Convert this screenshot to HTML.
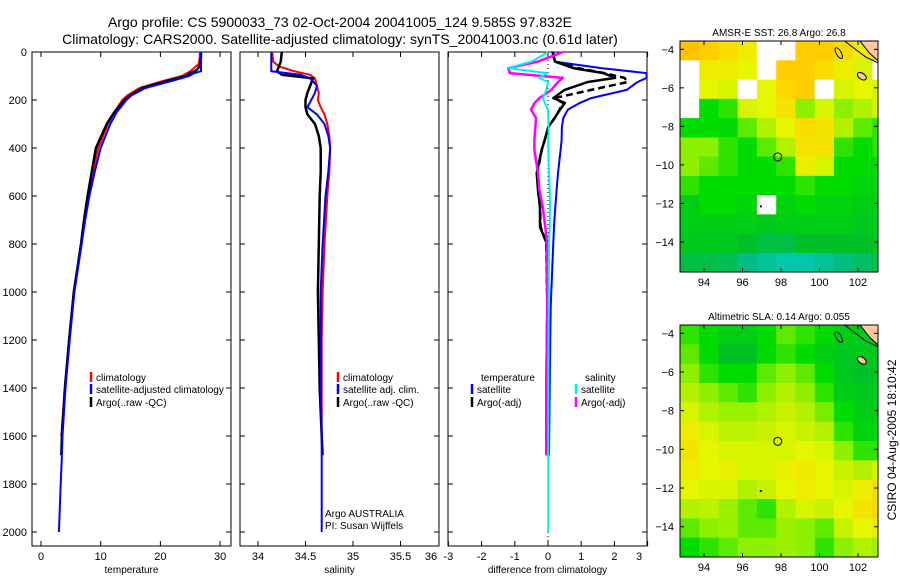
<!DOCTYPE html>
<html><head><meta charset="utf-8"><style>
html,body{margin:0;padding:0;background:#fff;}
svg{display:block;font-family:"Liberation Sans",sans-serif;}
</style></head><body>
<svg id="s" width="900" height="580" viewBox="0 0 900 580">
<defs>
<clipPath id="clip1"><rect x="680" y="41" width="198" height="231"/></clipPath>
<clipPath id="clip2"><rect x="680" y="325" width="198" height="232"/></clipPath>
</defs>
<text x="340" y="27" font-size="14" text-anchor="middle">Argo profile: CS 5900033_73 02-Oct-2004 20041005_124 9.585S 97.832E</text>
<text x="340" y="44" font-size="14" text-anchor="middle">Climatology: CARS2000. Satellite-adjusted climatology: synTS_20041003.nc (0.61d later)</text>
<text transform="translate(896,440) rotate(-90)" font-size="12" text-anchor="middle">CSIRO 04-Aug-2005 18:10:42</text>
</svg>
<script>
// ---------- data ----------
const tDepth=[0,20,50,70,80,90,100,120,150,180,200,250,300,400,500,600,700,800,900,1000,1200,1400,1600,1680,1800,2000];
const tClim=[26.6,26.6,26.4,25.5,25.0,24.3,23.6,20.5,16.5,14.5,13.6,12.3,11.2,9.6,8.7,7.9,7.3,6.8,6.2,5.5,4.7,4.0,3.4,null,null,null];
const tArgo=[26.8,26.8,26.7,26.3,25.8,24.8,24.3,21.2,17.0,15.0,14.0,12.3,11.0,9.2,8.5,7.8,7.2,6.7,6.1,5.5,4.7,4.0,3.5,3.4,null,null];
const tSat=[26.8,26.8,26.8,26.8,26.8,25.5,24.8,22.0,17.5,15.2,14.3,12.7,11.6,10.0,9.0,8.1,7.4,6.8,6.2,5.6,4.8,4.1,3.6,3.5,3.3,3.0];
const sDepth=[0,40,60,80,95,110,140,170,200,230,260,300,350,400,500,600,800,1000,1200,1400,1600,1680,1800,2000];
const sClim=[34.15,34.16,34.22,34.38,34.55,34.6,34.62,34.64,34.63,34.66,34.7,34.73,34.75,34.76,34.75,34.73,34.7,34.68,34.67,34.67,34.67,null,null,null];
const sArgo=[34.25,34.24,34.22,34.2,34.25,34.58,34.55,34.52,34.5,34.5,34.52,34.6,34.64,34.66,34.66,34.65,34.64,34.63,34.64,34.65,34.67,34.68,null,null];
const sSat=[34.14,34.14,34.14,34.14,34.45,34.55,34.62,34.6,34.56,34.52,34.62,34.7,34.74,34.76,34.74,34.71,34.68,34.66,34.66,34.66,34.67,34.67,34.67,34.67];
const dDepth=[0,40,67,88,108,125,158,192,212,240,275,312,367,408,504,575,646,729,796,1060,1400,1680,2000];
const dTempSat=[0.16,0.21,1.6,2.97,2.97,2.7,2.37,1.3,0.96,0.6,0.46,0.42,0.41,0.38,0.3,0.26,0.22,0.18,0.16,0.08,0.05,0.03,null];
const dTempArgo=[0.14,0.21,0.76,1.67,2.02,1.2,0.5,0.16,0.51,0.36,0.2,0.01,-0.1,-0.19,-0.34,-0.3,-0.24,-0.24,-0.04,-0.02,-0.05,-0.05,null];
const dTempAdj=[0.14,0.2,0.9,1.7,2.3,2.4,1.3,0.2,0.45,0.35,0.2,0.02,-0.1,-0.19,-0.32,-0.3,-0.24,-0.22,-0.05,-0.02,-0.04,-0.04,null];
const dSalSat=[0,-0.5,-1.2,-0.03,-0.27,0,-0.05,-0.15,-0.1,0,0.01,0.02,0.01,0.01,0.03,0.05,0.06,0.05,0.03,0.02,0.01,0.01,0.01];
const dSalArgo=[0.45,-0.3,-1.2,-1.15,0.45,0.3,0.1,-0.26,-0.4,-0.51,-0.36,-0.38,-0.41,-0.41,-0.3,-0.26,-0.16,-0.08,-0.03,-0.02,-0.05,-0.05,null];
const tTicks=[0,10,20,30];
const sTicks=[34,34.5,35,35.5,36];
const dTicks=[-3,-2,-1,0,1,2,3];
const depthTicks=[0,200,400,600,800,1000,1200,1400,1600,1800,2000];
const mapLon=[94,96,98,100,102];
const mapLat=[-4,-6,-8,-10,-12,-14];
const sstGrid=[
[0.88,0.85,0.8,0.75,-1,-1,0.85,0.85,0.8,0.75,0.7],
[-1,0.75,0.75,0.72,-1,0.85,0.85,0.8,0.75,0.7,-1],
[-1,0.72,0.7,-1,0.72,0.82,0.85,-1,0.7,0.72,0.7],
[-1,0.45,0.5,0.7,0.72,0.78,0.6,0.7,0.6,0.65,0.7],
[0.45,0.45,0.45,0.55,0.65,0.72,0.8,0.78,0.65,0.55,0.5],
[0.6,0.6,0.5,0.45,0.55,0.65,0.78,0.78,0.5,0.45,0.5],
[0.6,0.55,0.5,0.45,0.45,0.5,0.75,0.7,0.45,0.45,0.45],
[0.5,0.45,0.45,0.45,0.45,0.45,0.5,0.45,0.45,0.42,0.42],
[0.4,0.45,0.45,0.42,-1,0.42,0.45,0.42,0.42,0.4,0.4],
[0.4,0.4,0.4,0.4,0.38,0.4,0.4,0.4,0.4,0.38,0.38],
[0.38,0.38,0.38,0.35,0.3,0.3,0.35,0.35,0.35,0.35,0.38],
[0.3,0.3,0.28,0.2,0.15,0.1,0.1,0.15,0.2,0.25,0.3]];
const slaGrid=[
[0.5,0.45,0.4,0.4,0.45,0.55,0.5,0.45,0.4,0.4,0.4],
[0.55,0.45,0.35,0.35,0.45,0.5,0.45,0.4,0.38,0.38,0.38],
[0.6,0.5,0.45,0.45,0.55,0.6,0.55,0.45,0.38,0.35,0.38],
[0.65,0.6,0.55,0.5,0.6,0.65,0.6,0.5,0.4,0.38,0.38],
[0.7,0.65,0.62,0.62,0.65,0.68,0.65,0.58,0.45,0.4,0.4],
[0.75,0.7,0.66,0.66,0.68,0.7,0.68,0.65,0.5,0.42,0.42],
[0.78,0.72,0.7,0.7,0.7,0.7,0.72,0.7,0.6,0.5,0.5],
[0.75,0.72,0.74,0.7,0.7,0.74,0.76,0.72,0.68,0.65,0.7],
[0.72,0.7,0.7,0.65,0.68,0.72,0.75,0.72,0.7,0.75,0.8],
[0.65,0.66,0.62,0.55,0.5,0.65,0.7,0.68,0.72,0.78,0.82],
[0.55,0.6,0.62,0.55,0.55,0.62,0.6,0.55,0.68,0.72,0.75],
[0.45,0.5,0.55,0.6,0.6,0.62,0.6,0.5,0.6,0.65,0.62]];
const argoLon=97.832, argoLat=-9.585;

// ---------- helpers ----------
const NS="http://www.w3.org/2000/svg";
const svg=document.getElementById('s');
function el(tag,attrs,parent){const e=document.createElementNS(NS,tag);for(const k in attrs)e.setAttribute(k,attrs[k]);(parent||svg).appendChild(e);return e;}
function txt(x,y,s,size,anchor,parent){const t=el('text',{x:x,y:y,'font-size':size,'text-anchor':anchor||'middle'},parent);t.textContent=s;return t;}
const Y0=52,Y1=546;
const yD=d=>Y0+0.24*d;

function panel(name,x0,x1,xs,ticks,title,showDepth){
  const g=el('g',{});
  
  
  const r=el('rect',{x:x0,y:Y0,width:x1-x0,height:Y1-Y0,fill:'none',stroke:'#000','stroke-width':1},g);
  
  
  ticks.forEach(t=>{const x=xs(t);
    if(x>=x0-1&&x<=x1+1){el('line',{x1:x,x2:x,y1:Y1,y2:Y1-5,stroke:'#000'},g);el('line',{x1:x,x2:x,y1:Y0,y2:Y0+5,stroke:'#000'},g);}
    const lx=Math.min(x,x1-8);
    const lb=txt(lx,560,String(t),11,'middle',g);
    
    
  });
  depthTicks.forEach(d=>{const y=yD(d);
    el('line',{x1:x0,x2:x0+5,y1:y,y2:y,stroke:'#000'},g);el('line',{x1:x1,x2:x1-5,y1:y,y2:y,stroke:'#000'},g);
    if(showDepth){const lb=txt(27,y+4,String(d),11,'end',g);
      
      }
  });
  const tt=txt((x0+x1)/2,573,title,10,'middle',g);
  
  
  return g;
}
function series(g,name,depths,vals,xs,color,w,dash){
  let d='',pen=false;
  vals.forEach((v,i)=>{if(v===null){pen=false;return;}d+=(pen?'L':'M')+xs(v).toFixed(1)+','+yD(depths[i]).toFixed(1);pen=true;});
  const p=el('path',{d:d,fill:'none',stroke:color,'stroke-width':w,'stroke-linejoin':'round'},g);
  if(dash)p.setAttribute('stroke-dasharray',dash);
  
  
}
function legend(g,x,y,color,label,name){
  el('line',{x1:x,x2:x,y1:y-9,y2:y+1,stroke:color,'stroke-width':2.5},g);
  const t=txt(x+5,y,label,10,'start',g);
  
  
}

// panel 1 temperature
const xT=t=>41+5.97*t;
const g1=panel('temperature-panel',32,231,xT,tTicks,'temperature',true);
series(g1,'temp-climatology-line',tDepth,tClim,xT,'#f00',2);
series(g1,'temp-argo-line',tDepth,tArgo,xT,'#000',2.5);
series(g1,'temp-satellite-line',tDepth,tSat,xT,'#00f',2);
legend(g1,91,381,'#f00','climatology','legend-climatology');
legend(g1,91,393,'#00f','satellite-adjusted climatology','legend-satellite');
legend(g1,91,406,'#000','Argo(..raw -QC)','legend-argo');

// panel 2 salinity
const xS=s=>258+95*(s-34);
const g2=panel('salinity-panel',240,439,xS,sTicks,'salinity',false);
series(g2,'sal-climatology-line',sDepth,sClim,xS,'#f00',2);
series(g2,'sal-argo-line',sDepth,sArgo,xS,'#000',2.5);
series(g2,'sal-satellite-line',sDepth,sSat,xS,'#00f',2);
legend(g2,338,381,'#f00','climatology','legend-climatology');
legend(g2,338,393,'#00f','satellite adj. clim.','legend-satellite');
legend(g2,338,406,'#000','Argo(..raw -QC)','legend-argo');
const a1=txt(325,517,'Argo AUSTRALIA',10,'start',g2);
const a2=txt(325,529,'PI: Susan Wijffels',10,'start',g2);

// panel 3 differences
const xD=d=>548+33.2*d;
const g3=panel('difference-panel',448,647,xD,dTicks,'difference from climatology',false);
el('line',{x1:xD(0),x2:xD(0),y1:Y0,y2:Y1,stroke:'#000','stroke-dasharray':'1,3'},g3);
series(g3,'diff-temp-satellite-line',dDepth,dTempSat,xD,'#00f',2);
series(g3,'diff-temp-argo-line',dDepth,dTempArgo,xD,'#000',2.5);
series(g3,'diff-temp-argo-adj-line',dDepth,dTempAdj,xD,'#000',2.5,'7,4');
series(g3,'diff-sal-argo-line',dDepth,dSalArgo,xD,'#f0f',2.5);
series(g3,'diff-sal-satellite-line',dDepth,dSalSat,xD,'#0ee',2);
const lt=txt(481,381,'temperature',10,'start',g3);
legend(g3,472,393,'#00f','satellite','legend-temp-satellite');
legend(g3,472,406,'#000','Argo(-adj)','legend-temp-argo');
const ls=txt(585,381,'salinity',10,'start',g3);
legend(g3,576,393,'#0ee','satellite','legend-sal-satellite');
legend(g3,576,406,'#f0f','Argo(-adj)','legend-sal-argo');

// ---------- maps ----------
const stops=[[0,[0,210,210]],[0.2,[0,190,130]],[0.35,[0,192,40]],[0.45,[0,220,0]],[0.6,[140,240,0]],[0.72,[230,245,0]],[0.82,[255,215,0]],[0.95,[255,170,0]]];
function cmap(v){
  if(v<0)return '#fff';
  for(let i=1;i<stops.length;i++){if(v<=stops[i][0]){const a=stops[i-1],b=stops[i],f=(v-a[0])/(b[0]-a[0]);
    const c=a[1].map((x,k)=>Math.round(x+(b[1][k]-x)*f));return `rgb(${c})`;}}
  return `rgb(${stops[stops.length-1][1]})`;
}
function map(name,y0,y1,grid,title,lat4,lat14,clip){
  const x0=680,x1=878;
  const lonx=l=>704+19.25*(l-94);
  const laty=l=>lat4+(lat14-lat4)*(l+4)/(-10);
  const g=el('g',{});
  
  
  const gc=el('g',{'clip-path':`url(#${clip})`},g);
  grid.forEach((row,i)=>row.forEach((v,j)=>{
    const cx0=lonx(92.75+j), cy0=laty(-3.57-i);
    const c=el('rect',{x:cx0.toFixed(1),y:cy0.toFixed(1),width:(lonx(93.75+j)-cx0+0.6).toFixed(1),height:(laty(-4.57-i)-cy0+0.6).toFixed(1),fill:cmap(v)},gc);
    
    
  }));
  el('polygon',{points:`${lonx(102.1)},${y0} ${x1},${y0} ${x1},${laty(-4.6)} ${lonx(102.6)},${laty(-4.2)}`,fill:'#ffc8a0',stroke:'#000','stroke-width':1},gc);
  el('path',{d:`M${lonx(101.3)},${y0} L${lonx(102.4)},${laty(-4.4)} L${x1},${laty(-4.7)}`,fill:'none',stroke:'#000'},gc);
  el('ellipse',{cx:lonx(102.2),cy:laty(-5.4),rx:5,ry:3,transform:`rotate(35 ${lonx(102.2)} ${laty(-5.4)})`,fill:'#ffc8a0',stroke:'#000'},gc);
  el('ellipse',{cx:lonx(101),cy:laty(-4.2),rx:2.5,ry:6,transform:`rotate(-30 ${lonx(101)} ${laty(-4.2)})`,fill:'none',stroke:'#000'},gc);
  el('rect',{x:lonx(96.9),y:laty(-12.1),width:2,height:2,fill:'#000'},gc);
  const m=el('circle',{cx:lonx(argoLon),cy:laty(argoLat),r:4,fill:'none',stroke:'#000'},g);
  
  
  el('rect',{x:x0,y:y0,width:x1-x0,height:y1-y0,fill:'none',stroke:'#000'},g);
  mapLon.forEach(l=>{const x=lonx(l);el('line',{x1:x,x2:x,y1:y1,y2:y1-4,stroke:'#000'},g);el('line',{x1:x,x2:x,y1:y0,y2:y0+4,stroke:'#000'},g);
    const t=txt(x,y1+14,String(l),11,'middle',g);});
  mapLat.forEach(l=>{const y=laty(l);el('line',{x1:x0,x2:x0+4,y1:y,y2:y,stroke:'#000'},g);el('line',{x1:x1,x2:x1-4,y1:y,y2:y,stroke:'#000'},g);
    const t=txt(674,y+4,String(l).replace('-','\u2212'),11,'end',g);});
  const tt=txt((x0+x1)/2,y0-5,title,10,'middle',g);
  
  
}
map('sst-map',41,272,sstGrid,'AMSR-E SST: 26.8 Argo: 26.8',49.3,242,'clip1');
map('sla-map',325,557,slaGrid,'Altimetric SLA: 0.14 Argo: 0.055',333.3,526.7,'clip2');
</script>
</body></html>
